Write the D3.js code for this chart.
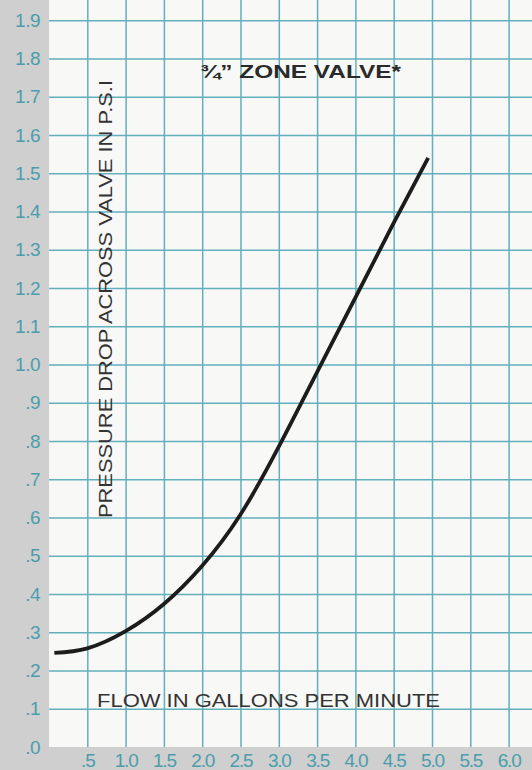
<!DOCTYPE html>
<html>
<head>
<meta charset="utf-8">
<script src="https://cdn.jsdelivr.net/npm/d3@7"></script>
<style>
  body { margin: 0; background: #cfcfcf; }
  svg { display: block; }
</style>
</head>
<body>
<div id="chart"></div>
<script>
const flow = [0.07, 0.5, 1.0, 1.5, 2.0, 2.5, 3.0, 3.5, 4.0, 4.5, 4.95];
const pressure = [0.246, 0.258, 0.303, 0.374, 0.474, 0.608, 0.785, 0.98, 1.175, 1.37, 1.54];

const xTicks = [0.5, 1.0, 1.5, 2.0, 2.5, 3.0, 3.5, 4.0, 4.5, 5.0, 5.5, 6.0];
const xTickLabels = [".5", "1.0", "1.5", "2.0", "2.5", "3.0", "3.5", "4.0", "4.5", "5.0", "5.5", "6.0"];
const yTicks = [0, 0.1, 0.2, 0.3, 0.4, 0.5, 0.6, 0.7, 0.8, 0.9, 1.0, 1.1, 1.2, 1.3, 1.4, 1.5, 1.6, 1.7, 1.8, 1.9];
const yTickLabels = [".0", ".1", ".2", ".3", ".4", ".5", ".6", ".7", ".8", ".9", "1.0", "1.1", "1.2", "1.3", "1.4", "1.5", "1.6", "1.7", "1.8", "1.9"];

const title = "¾\u201D ZONE VALVE*";
const yTitle = "PRESSURE DROP  ACROSS VALVE IN P.S.I";
const xTitle = "FLOW IN GALLONS PER MINUTE";

const width = 532;
const height = 770;
const margin = { top: 0, right: 0, bottom: 23, left: 49 };

const svg = d3.select("#chart")
  .append("svg")
  .attr("width", width)
  .attr("height", height);

const x = d3.scaleLinear()
  .domain([0, 0.5])
  .range([margin.left, margin.left + 38.3]);

const y = d3.scaleLinear()
  .domain([0, 0.1])
  .range([height - margin.bottom, height - margin.bottom - 38.25]);

// gray border strips
svg.append("rect")
  .attr("width", width)
  .attr("height", height)
  .attr("fill", "#cfcfcf");

// paper
svg.append("rect")
  .attr("x", x(0))
  .attr("y", 0)
  .attr("width", width - x(0))
  .attr("height", y(0))
  .attr("fill", "#f8f8f6");

// grid
const gridColor = "#62afbd";
svg.append("g")
  .attr("transform", `translate(${x(0)},0)`)
  .call(d3.axisRight(y).tickValues(yTicks.slice(1)).tickSize(width).tickFormat(""))
  .call(g => g.select(".domain").remove())
  .call(g => g.selectAll("line").attr("stroke", gridColor).attr("stroke-width", 1.5));

svg.append("g")
  .attr("transform", `translate(0,${y(0)})`)
  .call(d3.axisTop(x).tickValues(xTicks).tickSize(y(0)).tickFormat(""))
  .call(g => g.select(".domain").remove())
  .call(g => g.selectAll("line").attr("stroke", gridColor).attr("stroke-width", 1.5));

// tick labels
const labelColor = "#4b9dac";
svg.append("g")
  .attr("transform", `translate(${x(0)},0)`)
  .call(d3.axisLeft(y).tickValues(yTicks).tickSize(0).tickPadding(9)
    .tickFormat((d, i) => yTickLabels[i]))
  .call(g => g.select(".domain").remove())
  .call(g => g.selectAll("text")
    .attr("fill", labelColor)
    .attr("font-family", "Liberation Sans, sans-serif")
    .attr("font-size", 19)
    .attr("letter-spacing", -0.5));

svg.append("g")
  .attr("transform", `translate(0,${y(0)})`)
  .call(d3.axisBottom(x).tickValues(xTicks).tickSize(0).tickPadding(7)
    .tickFormat((d, i) => xTickLabels[i]))
  .call(g => g.select(".domain").remove())
  .call(g => g.selectAll("text")
    .attr("fill", labelColor)
    .attr("font-family", "Liberation Sans, sans-serif")
    .attr("font-size", 19)
    .attr("letter-spacing", -1.2));

// curve
const line = d3.line()
  .x((d, i) => x(flow[i]))
  .y(d => y(d))
  .curve(d3.curveNatural);

svg.append("path")
  .datum(pressure)
  .attr("d", line)
  .attr("fill", "none")
  .attr("stroke", "#1c1c1c")
  .attr("stroke-width", 3.8);

// titles
svg.append("text")
  .attr("x", 200)
  .attr("y", 78)
  .attr("textLength", 201)
  .attr("lengthAdjust", "spacingAndGlyphs")
  .attr("font-family", "Liberation Sans, sans-serif")
  .attr("font-weight", "bold")
  .attr("font-size", 19)
  .attr("fill", "#2a2a2a")
  .text(title);

svg.append("text")
  .attr("transform", "translate(112,518) rotate(-90)")
  .attr("textLength", 438)
  .attr("lengthAdjust", "spacingAndGlyphs")
  .attr("font-family", "Liberation Sans, sans-serif")
  .attr("font-size", 18.5)
  .attr("fill", "#333")
  .text(yTitle);

svg.append("text")
  .attr("x", 97)
  .attr("y", 707)
  .attr("textLength", 343)
  .attr("lengthAdjust", "spacingAndGlyphs")
  .attr("font-family", "Liberation Sans, sans-serif")
  .attr("font-size", 18.5)
  .attr("fill", "#333")
  .text(xTitle);
</script>
</body>
</html>
